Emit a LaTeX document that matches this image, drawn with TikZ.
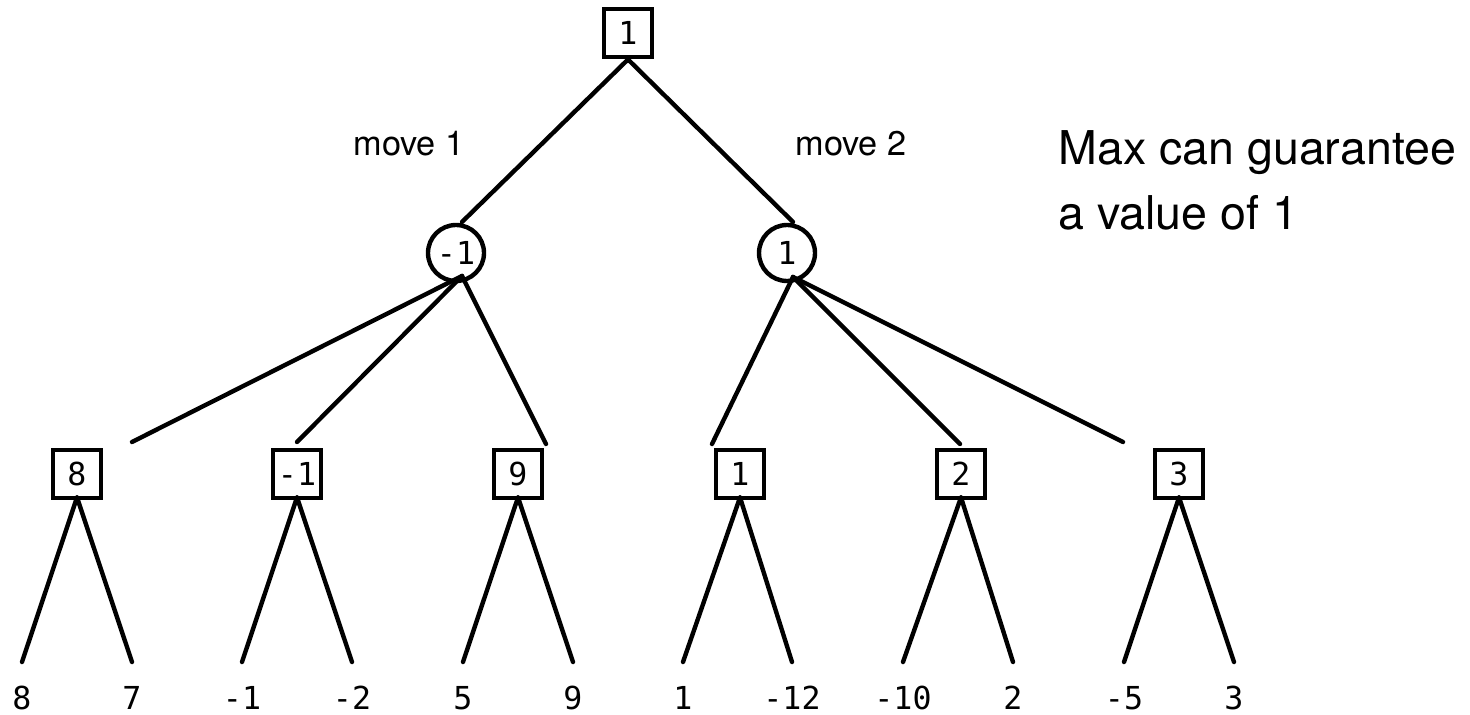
\documentclass[tikz,border=0pt]{standalone}
\usepackage{fontspec}
\usepackage{tikz}
\newfontfamily\valfont{DejaVu Sans Mono}
\newfontfamily\txtfont{TeX Gyre Heros}

\tikzset{
  maxbox/.style={draw,line width=2.5pt,minimum size=0.97cm,inner sep=0pt,font=\valfont\fontsize{18}{18}\selectfont},
  minring/.style={draw,circle,line width=2.5pt,minimum size=1.12cm,inner sep=0pt,font=\valfont\fontsize{18}{18}\selectfont},
  leafval/.style={inner sep=0pt,font=\valfont\fontsize{18}{18}\selectfont},
  movetext/.style={inner sep=0pt,font=\txtfont\fontsize{19.5}{19.5}\selectfont},
  branch/.style={line width=2.5pt,line cap=round}
}

\begin{document}
\begin{tikzpicture}[x=0.02cm,y=-0.02cm]
    \useasboundingbox (0,0) rectangle (1470,715);

    % max and min nodes
    \node[maxbox] (root) at (628,33) {1};
    \node[minring] (m1) at (456,253) {-1};
    \node[minring] (m2) at (787,253) {1};

    \node[maxbox] (b1) at (77,474) {8};
    \node[maxbox] (b2) at (297,474) {-1};
    \node[maxbox] (b3) at (518,474) {9};
    \node[maxbox] (b4) at (740,474) {1};
    \node[maxbox] (b5) at (961,474) {2};
    \node[maxbox] (b6) at (1179,474) {3};

    % leaf values
    \node[leafval] (l1) at (22,698) {8};
    \node[leafval] (l2) at (132,698) {7};
    \node[leafval] (l3) at (242,698) {-1};
    \node[leafval] (l4) at (352,698) {-2};
    \node[leafval] (l5) at (463,698) {5};
    \node[leafval] (l6) at (573,698) {9};
    \node[leafval] (l7) at (683,698) {1};
    \node[leafval] (l8) at (792,698) {-12};
    \node[leafval] (l9) at (903,698) {-10};
    \node[leafval] (l10) at (1013,698) {2};
    \node[leafval] (l11) at (1124,698) {-5};
    \node[leafval] (l12) at (1234,698) {3};

    % edge ends
    \coordinate (m1top) at (462,222);
    \coordinate (m2top) at (793,222);
    \coordinate (m1bot) at (462,276);
    \coordinate (m2bot) at (793,277);
    \coordinate (e1) at (132,442);
    \coordinate (e2) at (297,442);
    \coordinate (e3) at (546,444);
    \coordinate (e4) at (712,444);
    \coordinate (e5) at (960,444);
    \coordinate (e6) at (1123,442);

    \draw[branch] (root.south) -- (m1top);
    \draw[branch] (root.south) -- (m2top);

    \draw[branch] (m1bot) -- (e1);
    \draw[branch] (m1bot) -- (e2);
    \draw[branch] (m1bot) -- (e3);
    \draw[branch] (m2bot) -- (e4);
    \draw[branch] (m2bot) -- (e5);
    \draw[branch] (m2bot) -- (e6);

    \draw[branch] ([yshift=0.06cm]b1.south) -- ([yshift=0.72cm]l1.center);
    \draw[branch] ([yshift=0.06cm]b1.south) -- ([yshift=0.72cm]l2.center);
    \draw[branch] ([yshift=0.06cm]b2.south) -- ([yshift=0.72cm]l3.center);
    \draw[branch] ([yshift=0.06cm]b2.south) -- ([yshift=0.72cm]l4.center);
    \draw[branch] ([yshift=0.06cm]b3.south) -- ([yshift=0.72cm]l5.center);
    \draw[branch] ([yshift=0.06cm]b3.south) -- ([yshift=0.72cm]l6.center);
    \draw[branch] ([yshift=0.06cm]b4.south) -- ([yshift=0.72cm]l7.center);
    \draw[branch] ([yshift=0.06cm]b4.south) -- ([yshift=0.72cm]l8.center);
    \draw[branch] ([yshift=0.06cm]b5.south) -- ([yshift=0.72cm]l9.center);
    \draw[branch] ([yshift=0.06cm]b5.south) -- ([yshift=0.72cm]l10.center);
    \draw[branch] ([yshift=0.06cm]b6.south) -- ([yshift=0.72cm]l11.center);
    \draw[branch] ([yshift=0.06cm]b6.south) -- ([yshift=0.72cm]l12.center);

    % labels
    \node[movetext] (mv1) at (409,144) {move 1};
    \node[movetext] (mv2) at (851,144) {move 2};
    \node[inner sep=0pt,anchor=base west,align=left,font=\txtfont\fontsize{26.5}{37}\selectfont] (note) at (1058,230) {Max can guarantee\\a value of 1};
\end{tikzpicture}
\end{document}
